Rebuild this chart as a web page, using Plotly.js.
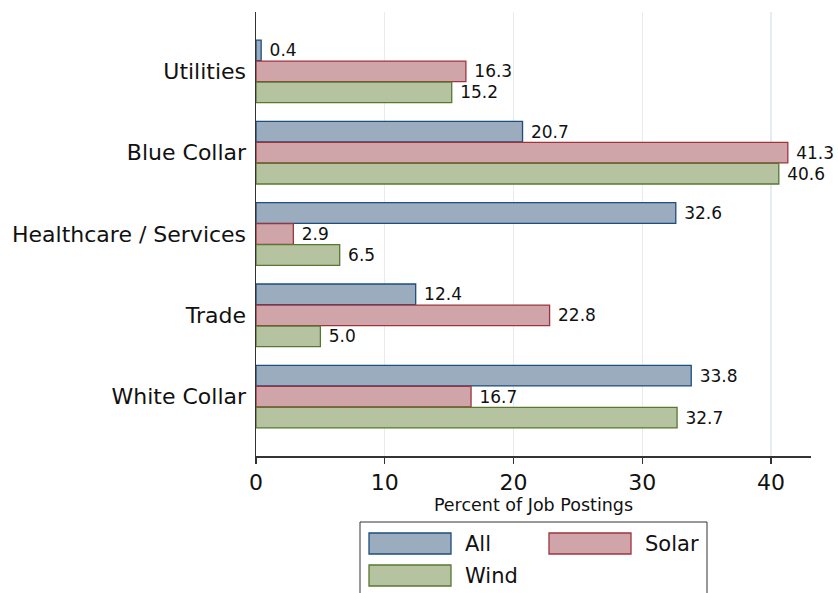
<!DOCTYPE html>
<html>
<head>
<meta charset="utf-8">
<script src="https://cdn.plot.ly/plotly-3.0.1.min.js"></script>
<style>html,body{margin:0;padding:0;background:#fff;}#chart{width:838px;height:593px;}</style>
</head>
<body>
<div id="chart"></div>
<script>
const categories = ["Utilities", "Blue Collar", "Healthcare / Services", "Trade", "White Collar"];
const seriesNames = ["All", "Solar", "Wind"];
const allValues = [0.4, 20.7, 32.6, 12.4, 33.8];
const solarValues = [16.3, 41.3, 2.9, 22.8, 16.7];
const windValues = [15.2, 40.6, 6.5, 5.0, 32.7];
const xTicks = [0, 10, 20, 30, 40];
const xTitle = "Percent of Job Postings";

const fills = ["rgb(154,172,190)", "rgb(207,165,170)", "rgb(181,195,161)"];
const borders = ["rgb(30,78,125)", "rgb(160,52,62)", "rgb(88,120,50)"];
const seriesValues = [allValues, solarValues, windValues];

const FONT = "DejaVu Sans, sans-serif";

const traces = seriesValues.map((vals, i) => ({
  type: "bar",
  orientation: "h",
  name: seriesNames[i],
  y: categories,
  x: vals,
  marker: {color: fills[i], line: {color: borders[i], width: 1.3}},
  text: vals.map(v => v.toFixed(1)),
  texttemplate: " %{text}",
  textposition: "outside",
  constraintext: "none",
  cliponaxis: false,
  textfont: {family: FONT, size: 17, color: "#111"},
  hoverinfo: "skip"
}));

// custom legend (wide swatches as in the reference)
const W = 555, H = 444; // plot area px
const px2x = p => (p - 256) / W;
const px2y = p => (456 - p) / H;
const shapes = [];
const annotations = [];
shapes.push({type: "rect", xref: "paper", yref: "paper",
  x0: px2x(360), x1: px2x(707), y0: px2y(522), y1: px2y(610),
  line: {color: "#333", width: 1}, fillcolor: "rgba(0,0,0,0)"});
const legPos = [[369, 533], [549, 533], [369, 565]];
seriesNames.forEach((n, i) => {
  const [lx, ly] = legPos[i];
  shapes.push({type: "rect", xref: "paper", yref: "paper",
    x0: px2x(lx), x1: px2x(lx + 82), y0: px2y(ly), y1: px2y(ly + 21),
    line: {color: borders[i], width: 1.3}, fillcolor: fills[i]});
  annotations.push({xref: "paper", yref: "paper", x: px2x(lx + 94), y: px2y(ly + 11),
    xanchor: "left", yanchor: "middle", showarrow: false, text: n,
    font: {family: FONT, size: 21, color: "#111"}});
});

const layout = {
  width: 838, height: 593,
  margin: {l: 256, r: 27, t: 12, b: 137},
  paper_bgcolor: "#fff", plot_bgcolor: "#fff",
  showlegend: false,
  barmode: "group",
  bargap: 0.225,
  bargroupgap: 0.02,
  font: {family: FONT, color: "#111"},
  xaxis: {
    range: [0, 43.1],
    tickvals: xTicks,
    ticktext: xTicks.map(String),
    ticks: "outside", ticklen: 6, tickwidth: 1.3, tickcolor: "#333",
    tickfont: {family: FONT, size: 22, color: "#111"},
    showgrid: true, gridcolor: "#e6edf2", gridwidth: 1.3,
    zeroline: false,
    showline: true, linecolor: "#333", linewidth: 1.5,
    title: {text: xTitle, font: {family: FONT, size: 17.5, color: "#111"}, standoff: 4},
    fixedrange: true
  },
  yaxis: {
    type: "category",
    categoryorder: "array", categoryarray: categories,
    range: [4.73, -0.73],
    ticks: "", ticklabelstandoff: 4,
    tickfont: {family: FONT, size: 22, color: "#111"},
    showgrid: false, zeroline: false,
    showline: true, linecolor: "#333", linewidth: 1.5,
    fixedrange: true
  },
  shapes: shapes,
  annotations: annotations
};

Plotly.newPlot("chart", traces, layout, {displayModeBar: false, staticPlot: true});
</script>
</body>
</html>
